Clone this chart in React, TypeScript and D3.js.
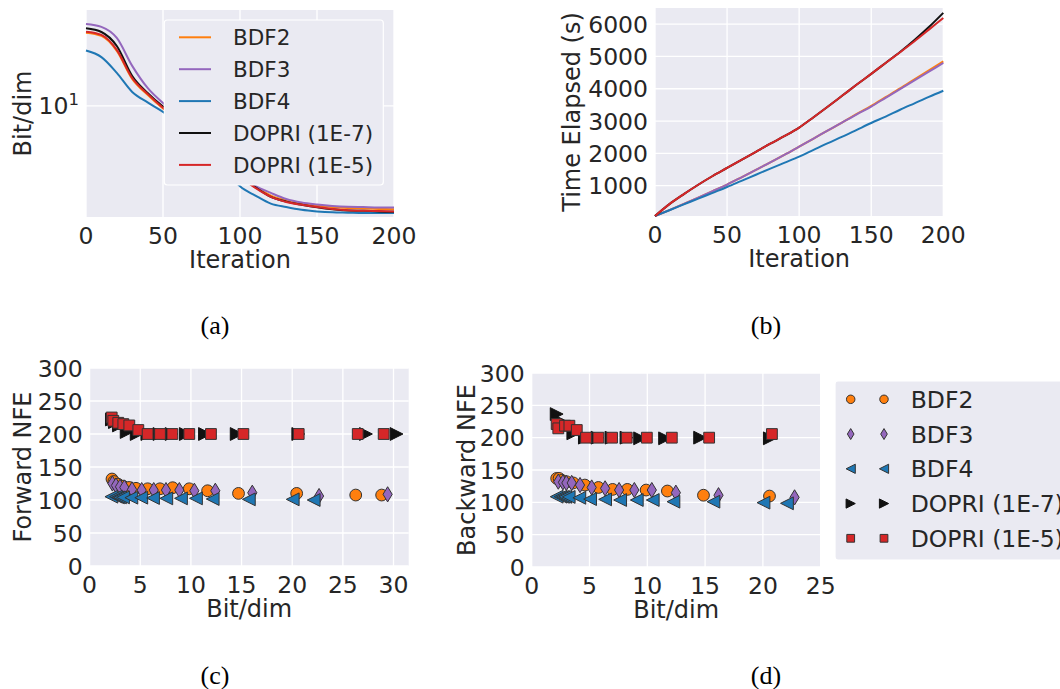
import React from "react";
import * as d3 from "d3";

// ---------- data ----------
const SERIES = ["BDF2", "BDF3", "BDF4", "DOPRI (1E-7)", "DOPRI (1E-5)"];
const COLORS = ["#ff7f0e", "#9467bd", "#1f77b4", "#111111", "#d62728"];

const ITER = [0, 10, 20, 30, 40, 50, 60, 70, 80, 90, 100, 110, 120, 130, 140, 150, 160, 170, 180, 190, 200];

// (a) Bit/dim vs iteration
const BITS_BDF2 = [28.7, 27.4, 22.1, 14.75, 11.72, 9.64, 8.23, 6.88, 5.62, 4.56, 3.7, 3.14, 2.75, 2.57, 2.45, 2.38, 2.33, 2.3, 2.28, 2.27, 2.26];
const BITS_BDF3 = [32.5, 31.2, 26.6, 17.8, 12.96, 10.44, 8.79, 7.39, 6.13, 4.94, 3.76, 3.16, 2.86, 2.62, 2.49, 2.42, 2.37, 2.34, 2.33, 2.32, 2.32];
const BITS_BDF4 = [22.2, 20.2, 16.1, 12.23, 10.52, 9.17, 7.94, 6.68, 5.31, 4.1, 3.14, 2.75, 2.45, 2.33, 2.24, 2.19, 2.16, 2.15, 2.14, 2.14, 2.14];
const BITS_DOPRI7 = [30.6, 29.0, 23.7, 15.4, 12.06, 9.9, 8.41, 6.98, 5.7, 4.6, 3.65, 3.1, 2.7, 2.52, 2.41, 2.32, 2.255, 2.22, 2.21, 2.19, 2.18];
const BITS_DOPRI5 = [29.1, 27.8, 22.4, 14.96, 11.89, 9.75, 8.29, 6.88, 5.62, 4.53, 3.6, 3.07, 2.7, 2.51, 2.41, 2.33, 2.27, 2.23, 2.21, 2.2, 2.19];

// (b) Time elapsed vs iteration
const TIME_BDF2 = [62, 245, 435, 630, 830, 1035, 1260, 1490, 1720, 1960, 2210, 2460, 2710, 2960, 3220, 3470, 3740, 4010, 4290, 4570, 4850];
const TIME_BDF3 = [62, 245, 435, 630, 830, 1035, 1260, 1490, 1720, 1960, 2210, 2460, 2710, 2960, 3210, 3450, 3720, 3990, 4260, 4530, 4800];
const TIME_BDF4 = [62, 240, 420, 600, 780, 960, 1150, 1340, 1530, 1715, 1900, 2110, 2320, 2520, 2730, 2940, 3140, 3350, 3550, 3750, 3940];
const TIME_DOPRI7 = [62, 430, 740, 1030, 1300, 1550, 1800, 2050, 2300, 2540, 2800, 3120, 3450, 3790, 4130, 4460, 4800, 5140, 5510, 5910, 6350];
const TIME_DOPRI5 = [62, 430, 740, 1030, 1300, 1550, 1800, 2050, 2300, 2540, 2800, 3120, 3450, 3790, 4130, 4460, 4800, 5130, 5470, 5830, 6190];

// (c) Forward NFE vs bit/dim
const FWD_BDF2_X = [2.21, 2.4, 2.8, 3.3, 3.9, 4.58, 5.73, 6.95, 8.2, 9.84, 11.65, 14.7, 20.44, 26.27, 28.83];
const FWD_BDF2_Y = [131.8, 128, 124, 121, 119, 117.7, 117, 117, 118.6, 117, 114, 110, 110, 107.5, 107.5];
const FWD_BDF3_X = [2.25, 2.6, 3.0, 3.43, 4.19, 5.14, 6.33, 7.54, 8.86, 10.34, 12.41, 16.06, 22.65, 29.42];
const FWD_BDF3_Y = [125, 122, 120, 119, 116, 115, 115, 115, 115, 114, 114, 111, 106, 108.6];
const FWD_BDF4_X = [2.15, 2.6, 2.8, 3.0, 3.3, 4.12, 5.1, 6.26, 7.57, 9.02, 10.5, 12.15, 15.72, 20.05, 22.12];
const FWD_BDF4_Y = [105, 105, 104, 104, 104, 103.5, 103.5, 103, 102.5, 102.5, 102.5, 101.5, 101, 101, 100];
const FWD_DOPRI7_X = [2.2, 2.5, 2.9, 3.66, 4.65, 5.7, 6.9, 8.1, 9.5, 11.39, 14.52, 20.6, 27.28, 30.3];
const FWD_DOPRI7_Y = [222, 218, 213, 203, 200, 200, 200, 200, 200, 200, 200, 200, 200, 200];
const FWD_DOPRI5_X = [2.18, 2.34, 2.83, 3.33, 3.92, 4.81, 5.73, 6.95, 8.17, 9.84, 11.98, 15.18, 20.64, 26.47, 29.03];
const FWD_DOPRI5_Y = [225, 220, 217, 215, 213, 206, 200, 200, 200, 200, 200, 200, 200, 200, 200];

// (d) Backward NFE vs bit/dim
const BWD_BDF2_X = [2.16, 2.37, 2.6, 3.0, 3.6, 4.6, 5.77, 7.0, 8.27, 9.9, 11.74, 14.86, 20.57];
const BWD_BDF2_Y = [137, 137, 134, 132, 130, 126.7, 123, 120, 120, 119, 117.5, 111, 109.7];
const BWD_BDF3_X = [2.3, 2.7, 3.0, 3.46, 4.18, 5.19, 6.35, 7.56, 8.88, 10.39, 12.47, 16.16, 22.74];
const BWD_BDF3_Y = [132, 131, 130, 130, 126.7, 123, 121.6, 119, 119, 119, 114.9, 111, 107.7];
const BWD_BDF4_X = [2.16, 2.5, 2.7, 2.9, 3.2, 4.12, 5.05, 6.35, 7.65, 9.09, 10.47, 12.26, 15.72, 20.05, 22.08];
const BWD_BDF4_Y = [108.7, 108.7, 108.5, 108.5, 108.3, 107, 105, 104.6, 103.6, 103.6, 103.6, 101, 101, 99.5, 98.5];
const BWD_DOPRI7_X = [2.16, 2.4, 2.8, 3.6, 4.6, 5.7, 6.9, 8.2, 9.38, 11.54, 14.57, 20.6];
const BWD_DOPRI7_Y = [236.5, 226, 218, 206.7, 200, 200, 200, 200, 199, 199, 200, 199];
const BWD_DOPRI5_X = [2.16, 2.3, 2.88, 3.26, 3.9, 4.7, 5.77, 6.95, 8.22, 9.96, 12.12, 15.35, 20.78];
const BWD_DOPRI5_Y = [221, 214.4, 218.5, 218.5, 211.8, 200, 200, 200, 200, 200, 200, 200, 205.6];

const TICKS_ITER = [0, 50, 100, 150, 200];
const TICKS_TIME = [1000, 2000, 3000, 4000, 5000, 6000];
const TICKS_NFE = [0, 50, 100, 150, 200, 250, 300];
const TICKS_FWD_X = [0, 5, 10, 15, 20, 25, 30];
const TICKS_BWD_X = [0, 5, 10, 15, 20, 25];

// ---------- style ----------
const FONT = "'DejaVu Sans', sans-serif";
const SERIF = "'Liberation Serif', 'DejaVu Serif', serif";
const TXT = "#262626";
const BG = "#EAEAF2";
const TICK_FS = 23.5;
const LABEL_FS = 24;
const LEG_A_FS = 21.5;
const LEG_D_FS = 23.5;

type Lin = d3.ScaleLinear<number, number> | d3.ScaleLogarithmic<number, number>;

function Frame({ x, y, xTicks, yTicks, yTickLabel, xLabel, yLabel, yLabelX }: {
  x: d3.ScaleLinear<number, number>; y: Lin; xTicks: number[]; yTicks: number[];
  yTickLabel?: (v: number) => React.ReactNode; xLabel: string; yLabel: string; yLabelX: number;
}) {
  const [x0, x1] = x.range();
  const [yb, yt] = y.range();
  return (
    <g>
      <rect x={x0} y={yt} width={x1 - x0} height={yb - yt} fill={BG} />
      {xTicks.map((t) => (
        <line key={"gx" + t} x1={x(t)} x2={x(t)} y1={yt} y2={yb} stroke="#fff" strokeWidth={1.3} />
      ))}
      {yTicks.map((t) => (
        <line key={"gy" + t} x1={x0} x2={x1} y1={y(t)} y2={y(t)} stroke="#fff" strokeWidth={1.3} />
      ))}
      {xTicks.map((t) => (
        <text key={"tx" + t} x={x(t)} y={yb + 26.5} textAnchor="middle" fontSize={TICK_FS} fill={TXT} fontFamily={FONT}>
          {t}
        </text>
      ))}
      {yTicks.map((t) => (
        <text key={"ty" + t} x={x0 - 7} y={y(t) + 8.5} textAnchor="end" fontSize={TICK_FS} fill={TXT} fontFamily={FONT}>
          {yTickLabel ? yTickLabel(t) : t}
        </text>
      ))}
      <text x={(x0 + x1) / 2} y={yb + 50.5} textAnchor="middle" fontSize={LABEL_FS} fill={TXT} fontFamily={FONT}>
        {xLabel}
      </text>
      <text
        transform={`translate(${yLabelX},${(yb + yt) / 2}) rotate(-90)`}
        textAnchor="middle" fontSize={LABEL_FS} fill={TXT} fontFamily={FONT}
      >
        {yLabel}
      </text>
    </g>
  );
}

function markerPath(kind: number, s: number): string {
  switch (kind) {
    case 0: { // circle
      const r = 5.9 * s;
      return `M${-r},0A${r},${r} 0 1,0 ${r},0A${r},${r} 0 1,0 ${-r},0Z`;
    }
    case 1: { // thin diamond
      const w = 4.6 * s, h = 7.6 * s;
      return `M0,${-h}L${w},0L0,${h}L${-w},0Z`;
    }
    case 2: { // left triangle
      const a = 6.4 * s;
      return `M${-a},0L${a},${-a}L${a},${a}Z`;
    }
    case 3: { // right triangle
      const a = 6.4 * s;
      return `M${a},0L${-a},${-a}L${-a},${a}Z`;
    }
    default: { // square
      const a = 5.4 * s;
      return `M${-a},${-a}H${a}V${a}H${-a}Z`;
    }
  }
}

function Marker({ kind, cx, cy, s = 1 }: { kind: number; cx: number; cy: number; s?: number }) {
  return (
    <path
      d={markerPath(kind, s)}
      transform={`translate(${cx},${cy})`}
      fill={COLORS[kind]}
      stroke={kind === 3 ? "#111" : "#333"}
      strokeWidth={1}
    />
  );
}

export default function App() {
  // ----- panel (a)
  const ax = d3.scaleLinear().domain([0, 200]).range([86, 394]);
  const ay = d3.scaleLog().domain([2.02, 39.8]).range([217, 10]);
  const bitsSeries = [BITS_BDF2, BITS_BDF3, BITS_BDF4, BITS_DOPRI7, BITS_DOPRI5];
  const lineA = (vals: number[]) =>
    d3.line<number>().x((_, i) => ax(ITER[i])).y((v) => ay(v)).curve(d3.curveMonotoneX)(vals) || "";

  // ----- panel (b)
  const bx = d3.scaleLinear().domain([0, 200]).range([655, 943.3]);
  const by = d3.scaleLinear().domain([62, 6500]).range([216, 8]);
  const timeSeries = [TIME_BDF2, TIME_BDF3, TIME_BDF4, TIME_DOPRI7, TIME_DOPRI5];
  const lineB = (vals: number[]) =>
    d3.line<number>().x((_, i) => bx(ITER[i])).y((v) => by(v)).curve(d3.curveMonotoneX)(vals) || "";

  // ----- panel (c)
  const cx = d3.scaleLinear().domain([0, 31.5]).range([89.6, 408.7]);
  const cy = d3.scaleLinear().domain([0, 300]).range([566, 368]);
  const fwd = [
    [FWD_BDF2_X, FWD_BDF2_Y], [FWD_BDF3_X, FWD_BDF3_Y], [FWD_BDF4_X, FWD_BDF4_Y],
    [FWD_DOPRI7_X, FWD_DOPRI7_Y], [FWD_DOPRI5_X, FWD_DOPRI5_Y],
  ];

  // ----- panel (d)
  const dx = d3.scaleLinear().domain([0, 25]).range([531.7, 820.7]);
  const dy = d3.scaleLinear().domain([0, 300]).range([567, 373]);
  const bwd = [
    [BWD_BDF2_X, BWD_BDF2_Y], [BWD_BDF3_X, BWD_BDF3_Y], [BWD_BDF4_X, BWD_BDF4_Y],
    [BWD_DOPRI7_X, BWD_DOPRI7_Y], [BWD_DOPRI5_X, BWD_DOPRI5_Y],
  ];

  return (
    <svg width={1060} height={689} style={{ position: "absolute", left: 0, top: 0, background: "#fff" }}>
      {/* (a) */}
      <Frame
        x={ax} y={ay} xTicks={TICKS_ITER} yTicks={[10]} xLabel="Iteration" yLabel="Bit/dim" yLabelX={31}
        yTickLabel={() => (
          <>
            <tspan>10</tspan>
            <tspan dy={-9} fontSize={16.5}>1</tspan>
          </>
        )}
      />
      <g>
        {bitsSeries.map((s, i) => (
          <path key={i} d={lineA(s)} fill="none" stroke={COLORS[i]} strokeWidth={2} />
        ))}
      </g>
      <g>
        <rect x={164.3} y={20} width={219} height={165} fill={BG} stroke="#fff" strokeWidth={1.2} rx={3} />
        {SERIES.map((name, i) => {
          const yy = 37.3 + i * 31.9;
          return (
            <g key={name}>
              <line x1={179} x2={211} y1={yy} y2={yy} stroke={COLORS[i]} strokeWidth={2} />
              <text x={233} y={yy + 7.8} fontSize={LEG_A_FS} fill={TXT} fontFamily={FONT}>{name}</text>
            </g>
          );
        })}
      </g>

      {/* (b) */}
      <Frame x={bx} y={by} xTicks={TICKS_ITER} yTicks={TICKS_TIME} xLabel="Iteration" yLabel="Time Elapsed (s)" yLabelX={580} />
      <g>
        {timeSeries.map((s, i) => (
          <path key={i} d={lineB(s)} fill="none" stroke={COLORS[i]} strokeWidth={2} />
        ))}
      </g>

      {/* (c) */}
      <Frame x={cx} y={cy} xTicks={TICKS_FWD_X} yTicks={TICKS_NFE} xLabel="Bit/dim" yLabel="Forward NFE" yLabelX={31} />
      <g>
        {fwd.map(([xs, ys], k) =>
          xs.map((v, j) => <Marker key={k + "-" + j} kind={k} cx={cx(v)} cy={cy(ys[j])} />)
        )}
      </g>

      {/* (d) */}
      <Frame x={dx} y={dy} xTicks={TICKS_BWD_X} yTicks={TICKS_NFE} xLabel="Bit/dim" yLabel="Backward NFE" yLabelX={475} />
      <g>
        {bwd.map(([xs, ys], k) =>
          xs.map((v, j) => <Marker key={k + "-" + j} kind={k} cx={dx(v)} cy={dy(ys[j])} />)
        )}
      </g>
      <g>
        <rect x={835} y={381} width={240} height={179} fill={BG} stroke="#fff" strokeWidth={1.2} rx={3} />
        {SERIES.map((name, i) => {
          const yy = 399.3 + i * 34.75;
          return (
            <g key={name}>
              <Marker kind={i} cx={850.7} cy={yy} s={0.72} />
              <Marker kind={i} cx={884} cy={yy} s={0.72} />
              <text x={910.7} y={yy + 8.5} fontSize={LEG_D_FS} fill={TXT} fontFamily={FONT}>{name}</text>
            </g>
          );
        })}
      </g>

      {/* captions */}
      <text x={215} y={334} textAnchor="middle" fontSize={26} fontFamily={SERIF} fill="#000">(a)</text>
      <text x={766} y={334} textAnchor="middle" fontSize={26} fontFamily={SERIF} fill="#000">(b)</text>
      <text x={215} y={684} textAnchor="middle" fontSize={26} fontFamily={SERIF} fill="#000">(c)</text>
      <text x={766} y={684} textAnchor="middle" fontSize={26} fontFamily={SERIF} fill="#000">(d)</text>
    </svg>
  );
}
